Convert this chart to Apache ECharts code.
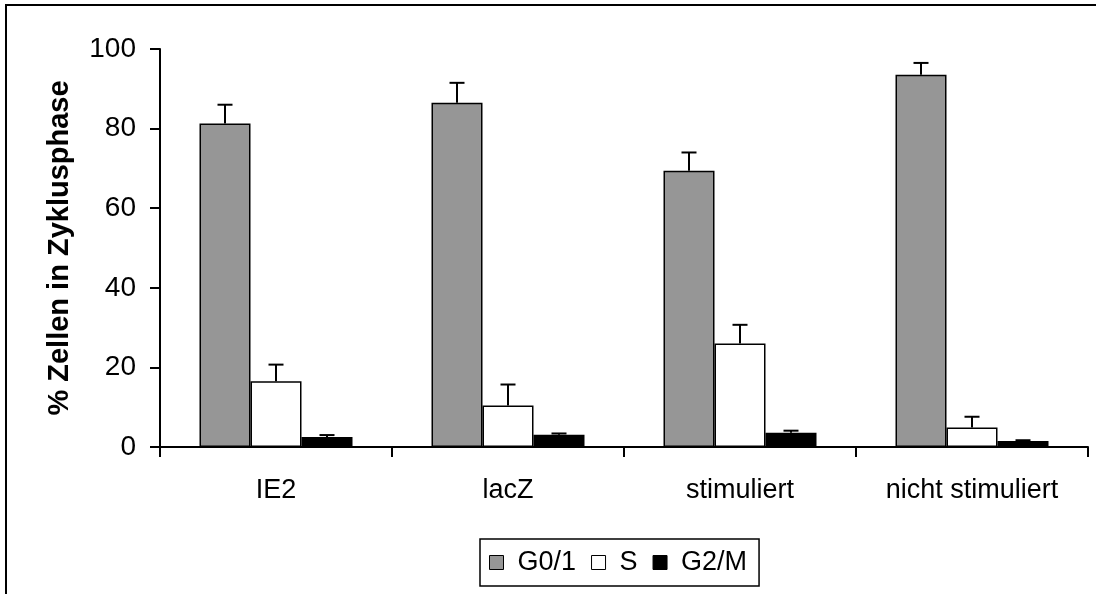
<!DOCTYPE html>
<html>
<head>
<meta charset="utf-8">
<script src="https://cdn.jsdelivr.net/npm/echarts@6/dist/echarts.min.js"></script>
<style>
	html, body { margin: 0; padding: 0; background: #fff; }
	#chart { width: 1096px; height: 594px; }
</style>
</head>
<body>
<div id="chart"></div>
<script>
// Kategorien
var categories = ['IE2', 'lacZ', 'stimuliert', 'nicht stimuliert'];
var seriesNames = ['G0/1', 'S', 'G2/M'];

// Mittelwerte (%)
var g01 = [81.3, 86.5, 69.4, 93.5];
var sPhase = [16.5, 10.4, 26.0, 4.9];
var g2m = [2.5, 3.1, 3.6, 1.5];

// Fehler (nur nach oben)
var g01Err = [4.7, 5.0, 4.6, 3.0];
var sErr = [4.2, 5.3, 4.7, 2.7];
var g2mErr = [0.5, 0.3, 0.5, 0.2];

var yTicks = [0, 20, 40, 60, 80, 100];

var font = 'Liberation Sans, Arial, sans-serif';
var barW = 51;
var colors = ['#969696', '#ffffff', '#000000'];

function errSeries(vals, errs, idx) {
	var offset = (idx - 1) * barW;
	return {
		type: 'custom',
		name: 'err' + idx,
		z: 5,
		silent: true,
		data: vals.map(function (v, i) { return [i, v, errs[i]]; }),
		renderItem: function (params, api) {
			var base = api.coord([api.value(0), api.value(1)]);
			var top = api.coord([api.value(0), api.value(1) + api.value(2)]);
			var x = base[0] + offset;
			var st = { stroke: '#000', lineWidth: 2 };
			return {
				type: 'group',
				children: [
					{ type: 'line', shape: { x1: x, y1: base[1], x2: x, y2: top[1] }, style: st },
					{ type: 'line', shape: { x1: x - 7.5, y1: top[1], x2: x + 7.5, y2: top[1] }, style: st }
				]
			};
		}
	};
}

function barSeries(name, vals, color) {
	return {
		name: name,
		type: 'bar',
		barWidth: barW,
		barGap: '0%',
		data: vals,
		itemStyle: {
			color: color,
			borderColor: '#000',
			borderWidth: 1.5
		}
	};
}

var chart = echarts.init(document.getElementById('chart'));

chart.setOption({
	animation: false,
	backgroundColor: '#fff',
	textStyle: { fontFamily: font },
	graphic: [{
		type: 'rect',
		shape: { x: 6, y: 5, width: 1200, height: 1000 },
		style: { fill: 'none', stroke: '#000', lineWidth: 2 },
		silent: true
	}],
	grid: {
		left: 160,
		right: 8,
		top: 49,
		bottom: 147
	},
	legend: {
		data: seriesNames,
		left: 480,
		top: 539,
		orient: 'horizontal',
		itemWidth: 14,
		itemHeight: 14,
		itemGap: 15,
		padding: [10, 12, 10, 9],
		borderColor: '#000',
		borderWidth: 1.5,
		icon: 'rect',
		itemStyle: { borderColor: '#000', borderWidth: 1 },
		textStyle: {
			color: '#000',
			fontSize: 27,
			fontFamily: font,
			padding: [0, 0, 0, 9]
		}
	},
	xAxis: {
		type: 'category',
		data: categories,
		axisLine: { lineStyle: { color: '#000', width: 2 } },
		axisTick: { show: true, length: 10, lineStyle: { color: '#000', width: 2 } },
		axisLabel: {
			color: '#000',
			fontSize: 27,
			fontFamily: font,
			margin: 30
		},
		splitLine: { show: false }
	},
	yAxis: {
		type: 'value',
		min: yTicks[0],
		max: yTicks[yTicks.length - 1],
		interval: 20,
		name: '% Zellen in Zyklusphase',
		nameLocation: 'middle',
		nameGap: 86,
		nameTextStyle: {
			color: '#000',
			fontSize: 29,
			fontWeight: 'bold',
			fontFamily: font
		},
		axisLine: { show: true, lineStyle: { color: '#000', width: 2 } },
		axisTick: { show: true, length: 10, lineStyle: { color: '#000', width: 2 } },
		axisLabel: {
			color: '#000',
			fontSize: 28,
			fontFamily: font,
			margin: 24,
			padding: [4, 0, 0, 0]
		},
		splitLine: { show: false }
	},
	series: [
		barSeries(seriesNames[0], g01, colors[0]),
		barSeries(seriesNames[1], sPhase, colors[1]),
		barSeries(seriesNames[2], g2m, colors[2]),
		errSeries(g01, g01Err, 0),
		errSeries(sPhase, sErr, 1),
		errSeries(g2m, g2mErr, 2)
	]
});
</script>
</body>
</html>
